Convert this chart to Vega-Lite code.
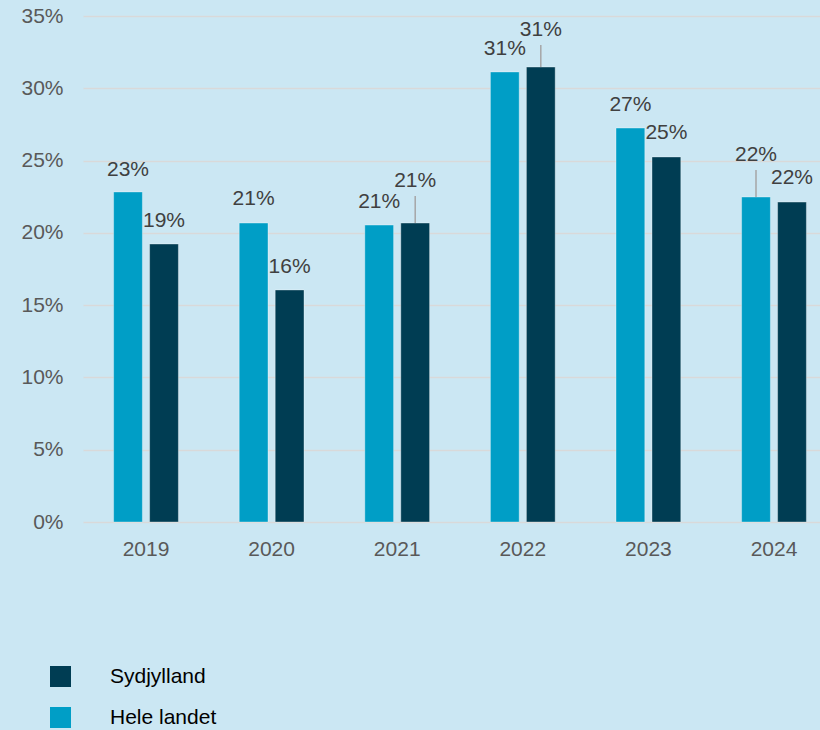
{
  "$schema": "https://vega.github.io/schema/vega-lite/v6.json",
  "width": 737,
  "height": 506,
  "autosize": {"type": "none"},
  "padding": {"left": 83, "top": 16, "right": 0, "bottom": 208},
  "background": "#cbe7f3",
  "config": {"view": {"stroke": null}, "font": "Liberation Sans"},
  "datasets": {
    "bars": [
      {"year": "2019", "series": "Hele landet", "value": 22.83, "label": "23%", "labelY": 24.35},
      {"year": "2019", "series": "Sydjylland", "value": 19.23, "label": "19%", "labelY": 20.82},
      {"year": "2020", "series": "Hele landet", "value": 20.68, "label": "21%", "labelY": 22.34},
      {"year": "2020", "series": "Sydjylland", "value": 16.05, "label": "16%", "labelY": 17.64},
      {"year": "2021", "series": "Hele landet", "value": 20.54, "label": "21%", "labelY": 22.13},
      {"year": "2021", "series": "Sydjylland", "value": 20.68, "label": "21%", "labelY": 23.59},
      {"year": "2022", "series": "Hele landet", "value": 31.13, "label": "31%", "labelY": 32.72},
      {"year": "2022", "series": "Sydjylland", "value": 31.47, "label": "31%", "labelY": 34.03},
      {"year": "2023", "series": "Hele landet", "value": 27.25, "label": "27%", "labelY": 28.84},
      {"year": "2023", "series": "Sydjylland", "value": 25.25, "label": "25%", "labelY": 26.91},
      {"year": "2024", "series": "Hele landet", "value": 22.48, "label": "22%", "labelY": 25.39},
      {"year": "2024", "series": "Sydjylland", "value": 22.13, "label": "22%", "labelY": 23.79}
    ],
    "leaders": [
      {"year": "2021", "series": "Sydjylland", "from": 20.68, "to": 22.55},
      {"year": "2022", "series": "Sydjylland", "from": 31.47, "to": 32.99},
      {"year": "2024", "series": "Hele landet", "from": 22.48, "to": 24.35}
    ]
  },
  "layer": [
    {
      "data": {"name": "bars"},
      "mark": {"type": "bar", "strokeWidth": 1, "strokeOpacity": 0.35, "stroke": "#ffffff"},
      "encoding": {
        "x": {
          "field": "year", "type": "nominal",
          "scale": {"range": [0, 754], "paddingInner": 0.4268, "paddingOuter": 0.215},
          "axis": {"title": null, "domain": false, "ticks": false, "labelAngle": 0, "labelFontSize": 21, "labelColor": "#595959", "labelPadding": 16}
        },
        "xOffset": {"field": "series", "type": "nominal", "sort": ["Hele landet", "Sydjylland"], "scale": {"paddingInner": 0.2, "paddingOuter": 0.1}},
        "y": {
          "field": "value", "type": "quantitative",
          "scale": {"domain": [0, 35], "nice": false},
          "axis": {"title": null, "values": [0, 5, 10, 15, 20, 25, 30, 35], "labelExpr": "datum.value + '%'", "grid": true, "gridColor": "#d9d9d9", "gridWidth": 1.5, "domain": false, "ticks": false, "labelFontSize": 21, "labelColor": "#595959", "labelPadding": 20}
        },
        "color": {
          "field": "series", "type": "nominal",
          "scale": {"domain": ["Sydjylland", "Hele landet"], "range": ["#003d53", "#009ec6"]},
          "legend": {
            "title": null, "orient": "none", "direction": "vertical",
            "legendX": -33, "legendY": 650,
            "symbolType": "square", "symbolSize": 441, "symbolStrokeWidth": 0,
            "labelFontSize": 21, "labelColor": "#000000", "labelOffset": 39, "rowPadding": 19, "padding": 0
          }
        }
      }
    },
    {
      "data": {"name": "leaders"},
      "mark": {"type": "rule", "color": "#a6a6a6", "strokeWidth": 1.5},
      "encoding": {
        "x": {"field": "year", "type": "nominal"},
        "xOffset": {"field": "series", "type": "nominal", "sort": ["Hele landet", "Sydjylland"]},
        "y": {"field": "from", "type": "quantitative", "title": null},
        "y2": {"field": "to"}
      }
    },
    {
      "data": {"name": "bars"},
      "mark": {"type": "text", "fontSize": 21, "color": "#404040", "baseline": "middle", "align": "center"},
      "encoding": {
        "x": {"field": "year", "type": "nominal"},
        "xOffset": {"field": "series", "type": "nominal", "sort": ["Hele landet", "Sydjylland"]},
        "y": {"field": "labelY", "type": "quantitative", "title": null},
        "text": {"field": "label"}
      }
    }
  ]
}
